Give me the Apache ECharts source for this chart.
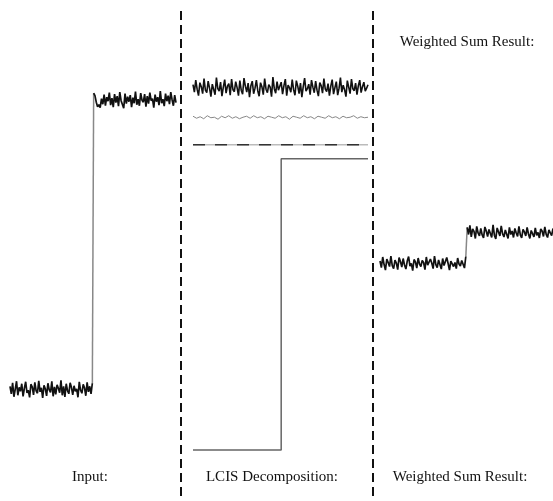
<!DOCTYPE html>
<html>
<head>
<meta charset="utf-8">
<script src="https://cdn.jsdelivr.net/npm/echarts@6/dist/echarts.min.js"></script>
<style>
html,body{margin:0;padding:0;background:#fff;}
#chart{width:553px;height:501px;}
</style>
</head>
<body>
<div id="chart"></div>
<script>
// ---- Data ----
var panelLabels = ["Input:", "LCIS Decomposition:", "Weighted Sum Result:"];
var topLabel = "Weighted Sum Result:";

// Input signal: noisy step (low half, high half)
var inputLow = [22.9,21.4,23.6,20.8,22.3,23.9,21.1,22.7,21.9,23.4,20.9,22.5,23.8,21.6,22.1,20.7,23.3,22.8,21.2,23.7,22.0,21.5,24.0,21.8,22.6,20.6,23.1,22.4,21.0,23.5,22.2,21.7,23.9,20.9,22.8,21.3,23.2,22.5,21.6,24.1,21.1,22.9,20.8,23.4,22.0,21.4,23.6,22.7,21.2,23.0,21.9,22.4,20.7,23.8,22.1,21.5,23.3,22.6,21.0,23.7,21.8,22.9,21.4,23.5];
var inputHigh = [81.4,80.9,79.6,78.7,79.1,78.5,80.3,79.2,81.1,78.9,80.6,79.8,81.5,79.0,80.4,78.6,81.2,79.5,80.8,78.8,81.6,79.9,80.1,78.4,81.3,79.3,80.7,79.7,81.0,78.6,80.5,79.4,81.7,79.1,80.2,78.9,81.4,80.0,79.6,81.2,78.7,80.8,79.3,81.5,79.9,80.3,78.5,81.1,79.7,80.6,79.0,81.8,79.4,80.2,78.8,81.3,79.8,80.9,79.2,81.6,80.1,78.9,81.0,79.5];

// LCIS decomposition components
var lcisNoise = [83.1,81.6,84.0,82.2,80.9,83.5,82.7,81.3,84.3,82.0,81.5,83.8,82.4,80.7,83.2,82.9,81.1,84.5,82.3,81.8,83.6,80.8,82.6,84.1,81.4,82.8,83.3,81.0,84.2,82.1,81.7,83.7,
  82.5,80.9,83.9,82.0,81.2,84.4,82.8,81.6,83.4,80.6,82.9,83.8,81.3,82.4,84.0,81.9,80.8,83.5,82.7,81.1,84.3,82.2,81.5,83.1,82.6,80.7,84.6,82.3,81.4,83.7,82.0,81.8,
  83.6,81.2,82.9,84.2,80.9,83.0,82.5,81.6,84.1,82.1,81.0,83.9,82.8,81.3,83.4,80.6,82.7,84.4,81.8,82.3,83.2,81.1,84.0,82.6,81.5,83.8,82.0,80.8,83.5,82.9,81.4,84.3,
  82.2,81.7,83.3,80.9,82.8,84.1,81.2,82.5,83.7,81.0,82.4,84.5,81.6,83.0,82.1,80.7,83.9,82.6,81.3,84.2,82.3,81.9,83.4,81.1,82.9,84.0,81.5,82.7,83.6,81.8,82.4,83.1];
var lcisFine = [76.8,76.4,76.7,76.3,76.9,76.5,76.6,76.2,76.8,76.5,76.9,76.4,76.7,76.3,76.6,76.8,76.4,76.9,76.5,76.7,76.3,76.8,76.6,76.4,76.9,76.5,76.7,76.2,76.8,76.6,76.4,76.9,76.5,76.7,76.3,76.8,76.6,76.4,76.9,76.5,76.7,76.3,76.8,76.5,76.6,76.9,76.4,76.7,76.5,76.6];
var lcisFlat = [71.1, 71.1];
var lcisStepX = [0, 64, 127];
var lcisStepY = [10.2, 68.3, 68.3];

// Weighted sum result
var resultLow = [47.9,46.6,48.7,47.2,46.1,48.3,47.6,46.8,48.9,47.0,46.4,48.1,47.5,46.2,48.6,47.8,46.7,48.4,47.1,46.3,47.9,48.8,46.9,47.4,46.0,48.2,47.7,46.5,48.5,47.3,46.8,48.0,47.6,46.2,48.7,47.1,46.9,48.3,47.5,46.4,48.9,47.2,46.6,48.1,47.8,46.3,48.4,47.0,46.7,48.6,47.4,46.1,47.9,48.2,46.8,47.6,46.4,48.5,47.3,46.9,48.0,47.7,46.5,48.8];
var resultHigh = [54.6,53.2,55.0,52.7,54.3,53.8,52.4,54.8,53.5,52.9,54.4,53.1,52.5,54.7,53.9,52.8,54.2,53.4,52.6,55.1,53.0,52.3,54.5,53.7,52.9,54.9,53.3,52.7,54.1,53.8,52.4,54.6,53.2,53.9,52.6,54.4,53.5,52.8,54.8,53.1,52.5,54.2,53.7,52.9,54.6,53.3,52.4,54.0,53.8,52.7,54.5,53.0,53.6,52.5,54.3,53.9,52.8,54.7,53.2,52.6,54.1,53.5,53.0,54.4];

// ---- Build ----
var N = 128;
function idx(arr, off){ off = off || 0; return arr.map(function(v,i){ return [i + off, v]; }); }
function spread(arr){ var last = N - 1; return arr.map(function(v,i){ return [i * last / (arr.length - 1), v]; }); }
function joint(a, b){ return [[a.length - 1, a[a.length-1]], [a.length, b[0]]]; }

var chart = echarts.init(document.getElementById('chart'), null, {renderer: 'canvas'});
var font = '"Liberation Serif", "DejaVu Serif", serif';

function ax(i, isX){
  return isX ? {type:'value', gridIndex:i, min:0, max:N-1, show:false}
             : {type:'value', gridIndex:i, min:0, max:100, show:false};
}
function line(i, data, color, width, extra){
  var s = {type:'line', xAxisIndex:i, yAxisIndex:i, data:data, showSymbol:false, symbol:'none',
    animation:false, silent:true, lineStyle:{color:color, width:width}};
  if (extra) for (var k in extra) s[k] = extra[k];
  return s;
}

var option = {
  backgroundColor: '#fff',
  animation: false,
  grid: [
    {left:10, width:166, top:0, height:501},
    {left:193, width:175, top:0, height:501},
    {left:380, width:173, top:0, height:501}
  ],
  xAxis: [ax(0,true), ax(1,true), ax(2,true)],
  yAxis: [ax(0,false), ax(1,false), ax(2,false)],
  series: [
    line(0, joint(inputLow, inputHigh), '#888', 1.5),
    line(0, idx(inputLow), '#111', 1.7),
    line(0, idx(inputHigh, inputLow.length), '#111', 1.7),
    line(1, idx(lcisNoise), '#111', 1.6),
    line(1, spread(lcisFine), '#888', 1),
    line(1, spread(lcisFlat), '#bbb', 1.5),
    line(1, spread(lcisFlat), '#333', 1.5, {lineStyle:{color:'#333', width:1.5, type:[12,10]}}),
    line(1, lcisStepX.map(function(x,i){ return [x, lcisStepY[i]]; }), '#666', 1.5, {step:'end'}),
    line(2, joint(resultLow, resultHigh), '#888', 1.5, {xAxisIndex:2, yAxisIndex:2}),
    line(2, idx(resultLow), '#111', 1.7),
    line(2, idx(resultHigh, resultLow.length), '#111', 1.7)
  ],
  graphic: [
    {type:'line', shape:{x1:181, y1:11, x2:181, y2:501}, style:{stroke:'#111', lineWidth:2, lineDash:[9,5]}},
    {type:'line', shape:{x1:373, y1:11, x2:373, y2:501}, style:{stroke:'#111', lineWidth:2, lineDash:[9,5]}},
    {type:'text', x:467, y:42, style:{text:topLabel, font:'15px ' + font, fill:'#111', textAlign:'center', textVerticalAlign:'middle'}},
    {type:'text', x:90, y:477, style:{text:panelLabels[0], font:'15px ' + font, fill:'#111', textAlign:'center', textVerticalAlign:'middle'}},
    {type:'text', x:272, y:477, style:{text:panelLabels[1], font:'15px ' + font, fill:'#111', textAlign:'center', textVerticalAlign:'middle'}},
    {type:'text', x:460, y:477, style:{text:panelLabels[2], font:'15px ' + font, fill:'#111', textAlign:'center', textVerticalAlign:'middle'}}
  ]
};
chart.setOption(option);
</script>
</body>
</html>
